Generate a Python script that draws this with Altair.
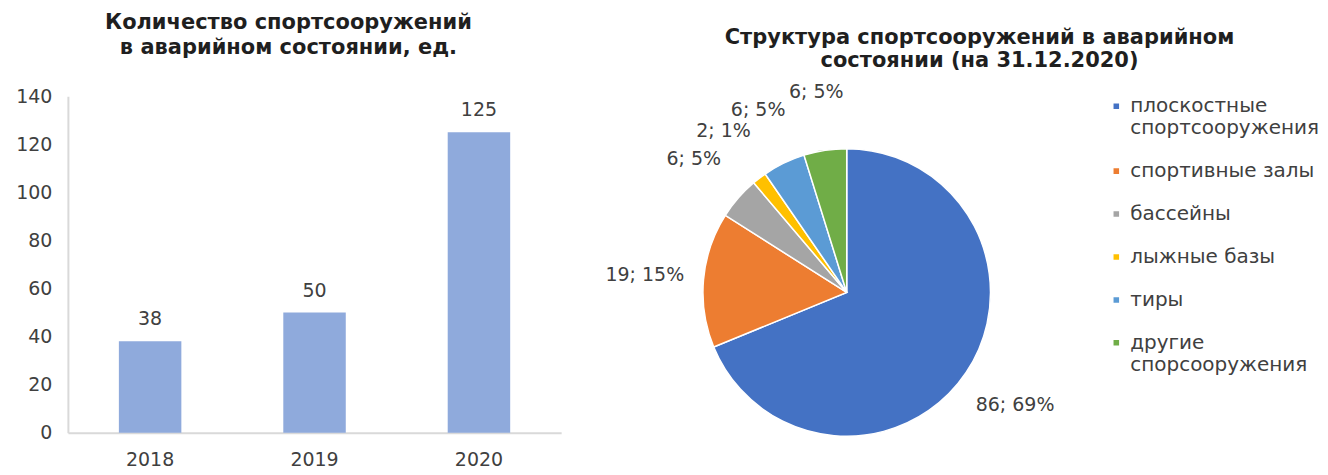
import altair as alt
import pandas as pd

# ---- data ----
years = ["2018", "2019", "2020"]
counts = [38, 50, 125]
y_ticks = [0, 20, 40, 60, 80, 100, 120, 140]

categories = ["плоскостные\nспортсооружения", "спортивные залы", "бассейны",
              "лыжные базы", "тиры", "другие\nспорсооружения"]
values = [86, 19, 6, 2, 6, 6]
percents = [69, 15, 5, 1, 5, 5]
colors = ["#4472C4", "#ED7D31", "#A5A5A5", "#FFC000", "#5B9BD5", "#70AD47"]

bar_title = ["Количество спортсооружений", "в аварийном состоянии, ед."]
pie_title = ["Структура спортсооружений в аварийном", "состоянии (на 31.12.2020)"]

FONT = "DejaVu Sans"
TXT = "#404040"

bar_df = pd.DataFrame({"year": years, "count": counts})
pie_df = pd.DataFrame({
    "cat": categories,
    "value": values,
    "label": [f"{v}; {p}%" for v, p in zip(values, percents)],
    "order": list(range(len(values))),
})

# ---- bar chart ----
bar_base = alt.Chart(bar_df).encode(
    x=alt.X("year:N", sort=years,
            scale=alt.Scale(paddingInner=0.62, paddingOuter=0.31),
            axis=alt.Axis(title=None, labelAngle=0, ticks=False, domainColor="#D9D9D9",
                          domainWidth=2, labelPadding=18, labelFontSize=19,
                          labelColor=TXT, labelFont=FONT)),
    y=alt.Y("count:Q", scale=alt.Scale(domain=[0, 140], nice=False),
            axis=alt.Axis(title=None, values=y_ticks, grid=False, ticks=False,
                          domainColor="#D9D9D9", domainWidth=2, labelPadding=16,
                          labelFontSize=19, labelColor=TXT, labelFont=FONT)),
)
bars = bar_base.mark_bar(color="#8FAADC")
bar_labels = bar_base.mark_text(baseline="bottom", dy=-12, fontSize=19, font=FONT,
                                color=TXT).encode(text="count:Q")
bar_chart = (bars + bar_labels).properties(
    width=494, height=337,
    title=alt.TitleParams(bar_title, fontSize=21, font=FONT, fontWeight="bold",
                          color="#1F1F1F", anchor="middle", frame="bounds",
                          lineHeight=25, offset=29),
)

# ---- pie chart ----
pie_base = alt.Chart(pie_df).encode(
    theta=alt.Theta("value:Q", stack=True),
    order=alt.Order("order:Q", sort="ascending"),
)
arcs = pie_base.mark_arc(outerRadius=144, stroke="white", strokeWidth=1.5, yOffset=28).encode(
    color=alt.Color("cat:N", scale=alt.Scale(domain=categories, range=colors),
                    legend=alt.Legend(title=None, orient="none", legendX=1040, legendY=0,
                                      symbolType="square", symbolSize=50,
                                      labelFontSize=20, labelFont=FONT, labelColor=TXT,
                                      labelOffset=4, rowPadding=23, labelLimit=400,
                                      labelExpr="split(datum.label, '\\n')")),
)
pie_labels = pie_base.mark_text(radius=203, yOffset=28, fontSize=19, font=FONT,
                                color=TXT).encode(text="label:N")
pie_chart = (arcs + pie_labels).properties(
    width=496, height=337,
    title=alt.TitleParams(pie_title, fontSize=21, font=FONT, fontWeight="bold",
                          color="#1F1F1F", anchor="middle", dx=133,
                          lineHeight=23, offset=12),
)

chart = alt.hconcat(bar_chart, pie_chart, spacing=38, bounds="flush").properties(
    padding={"left": 7, "top": 4, "right": 0, "bottom": 0}
).configure(font=FONT).configure_view(stroke=None)

chart.save("out.html", embed_options={"renderer": "svg", "actions": False})
